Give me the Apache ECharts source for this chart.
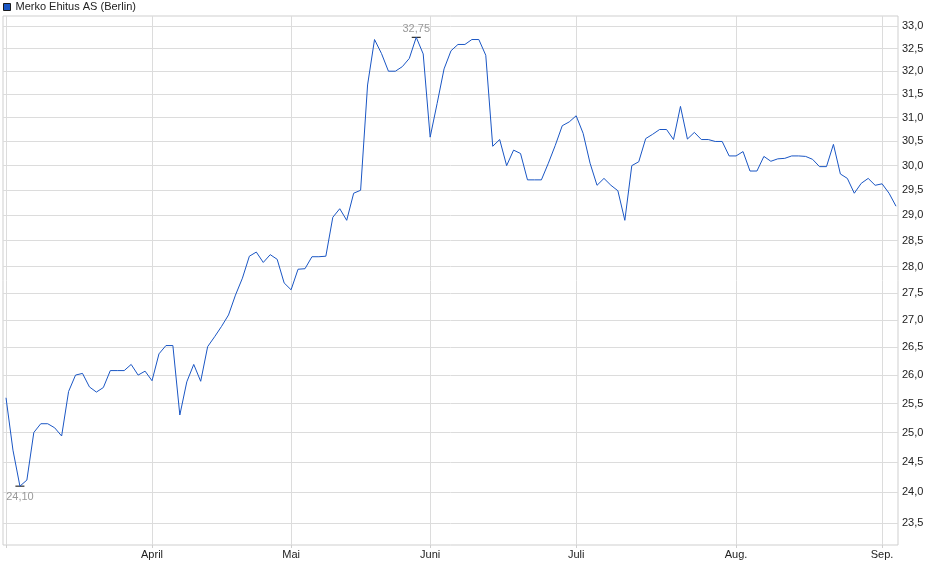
<!DOCTYPE html>
<html><head><meta charset="utf-8">
<script src="https://cdn.jsdelivr.net/npm/echarts@6/dist/echarts.min.js"></script>
<style>html,body{margin:0;padding:0;background:#fff}#c{width:940px;height:579px}</style>
</head><body><div id="c"></div>
<script>
const seriesName = 'Merko Ehitus AS (Berlin)';
const startDate = '2025-03-03';
const endDate = '2025-09-03';
const holidays = ['2025-04-18', '2025-04-21', '2025-05-01', '2025-05-29'];
const monthLabels = {'04': 'April', '05': 'Mai', '06': 'Juni', '07': 'Juli', '08': 'Aug.', '09': 'Sep.'};
const prices = [
  25.60, 24.70, 24.10, 24.20, 25.00, 25.15, 25.15, 25.08, 24.94, 25.71,
  26.00, 26.03, 25.79, 25.70, 25.78, 26.08, 26.08, 26.08, 26.19, 26.00,
  26.07, 25.90, 26.38, 26.53, 26.53, 25.30, 25.88, 26.19, 25.89, 26.51,
  26.69, 26.88, 27.09, 27.46, 27.78, 28.20, 28.28, 28.08, 28.23, 28.14,
  27.69, 27.56, 27.95, 27.96, 28.19, 28.19, 28.20, 28.96, 29.13, 28.90,
  29.44, 29.50, 31.70, 32.70, 32.39, 32.00, 32.00, 32.10, 32.28, 32.75,
  32.38, 30.59, 31.30, 32.05, 32.45, 32.59, 32.59, 32.70, 32.70, 32.35,
  30.40, 30.54, 30.00, 30.32, 30.25, 29.71, 29.71, 29.71, 30.05, 30.42,
  30.83, 30.91, 31.04, 30.67, 30.05, 29.60, 29.74, 29.60, 29.49, 28.90,
  30.00, 30.08, 30.56, 30.65, 30.75, 30.75, 30.54, 31.24, 30.55, 30.69,
  30.54, 30.54, 30.50, 30.50, 30.20, 30.20, 30.29, 29.89, 29.89, 30.19,
  30.09, 30.14, 30.15, 30.20, 30.20, 30.19, 30.13, 29.98, 29.98, 30.44,
  29.83, 29.74, 29.44, 29.64, 29.74, 29.60, 29.63, 29.44, 29.18
];
const yTicks = [23.5, 24.0, 24.5, 25.0, 25.5, 26.0, 26.5, 27.0, 27.5, 28.0,
  28.5, 29.0, 29.5, 30.0, 30.5, 31.0, 31.5, 32.0, 32.5, 33.0];
const yMin = 23.15;
const yMax = 33.23;

function tradingDays() {
  const out = [];
  const d = new Date(startDate + 'T00:00:00Z');
  const end = new Date(endDate + 'T00:00:00Z');
  while (d <= end) {
    const s = d.toISOString().slice(0, 10);
    const wd = d.getUTCDay();
    if (wd !== 0 && wd !== 6 && holidays.indexOf(s) < 0) out.push(s);
    d.setUTCDate(d.getUTCDate() + 1);
  }
  return out;
}
const dates = tradingDays();
const monthStart = new Set();
dates.forEach((d, i) => { if (i === 0 || d.slice(5, 7) !== dates[i - 1].slice(5, 7)) monthStart.add(i); });

const fmt = (v, n) => v.toFixed(n).replace('.', ',');
const font = '"Liberation Sans", Arial, Helvetica, sans-serif';
const lineColor = '#1a56c4';

const chart = echarts.init(document.getElementById('c'), null, {renderer: 'canvas'});
chart.setOption({
  animation: false,
  textStyle: {fontFamily: font},
  legend: {
    left: 3, top: 0, padding: 0, icon: 'rect', itemWidth: 7, itemHeight: 7, itemGap: 5,
    selectedMode: false,
    textStyle: {fontSize: 11, color: '#222', fontFamily: font, lineHeight: 14},
    itemStyle: {borderColor: '#1a1a1a', borderWidth: 1},
    data: [seriesName]
  },
  grid: [
    {left: 3, right: 42, top: 16, bottom: 34, show: true, borderColor: '#cfcfcf', borderWidth: 1, backgroundColor: 'rgba(0,0,0,0)'},
    {left: 6, right: 44, top: 16, bottom: 34}
  ],
  xAxis: [
    {gridIndex: 0, type: 'value', min: 0, max: 1, show: false},
    {
      gridIndex: 1, type: 'category', data: dates, boundaryGap: false,
      axisLine: {show: false},
      axisTick: {show: true, length: 3, interval: (i) => monthStart.has(i), lineStyle: {color: '#cfcfcf'}},
      axisLabel: {
        interval: (i) => monthStart.has(i) && i > 0,
        formatter: (v) => monthLabels[v.slice(5, 7)] || '',
        color: '#222', fontSize: 11, margin: 4, fontFamily: font
      },
      splitLine: {show: true, interval: (i) => monthStart.has(i), lineStyle: {color: '#dcdcdc', width: 1}}
    }
  ],
  yAxis: [
    {gridIndex: 0, type: 'log', min: yMin, max: yMax, show: false, splitLine: {show: false}},
    {gridIndex: 1, type: 'log', min: yMin, max: yMax, show: false, splitLine: {show: false}}
  ],
  series: [
    {
      type: 'line', xAxisIndex: 0, yAxisIndex: 0, data: [], silent: true,
      markLine: {
        silent: true, symbol: 'none', animation: false,
        lineStyle: {color: '#dcdcdc', width: 1, type: 'solid'},
        label: {
          position: 'end', distance: 4, color: '#222', fontSize: 11, fontFamily: font,
          formatter: (p) => fmt(yTicks[p.dataIndex], 1)
        },
        emphasis: {disabled: true},
        data: yTicks.map((t) => ({yAxis: t}))
      }
    },
    {
      name: seriesName, type: 'line', xAxisIndex: 1, yAxisIndex: 1, data: prices,
      showSymbol: false, symbol: 'none', z: 5,
      lineStyle: {color: lineColor, width: 1},
      itemStyle: {color: lineColor},
      markPoint: {
        symbol: 'rect', symbolSize: [9, 1], silent: true,
        itemStyle: {color: '#000'},
        label: {
          show: true, color: '#9a9a9a', fontSize: 11, fontFamily: font, distance: 2,
          formatter: (p) => fmt(p.value, 2)
        },
        data: [
          {type: 'max', label: {position: 'top', distance: 2}},
          {type: 'min', label: {position: 'bottom', distance: 5}}
        ]
      }
    }
  ]
});
</script></body></html>
